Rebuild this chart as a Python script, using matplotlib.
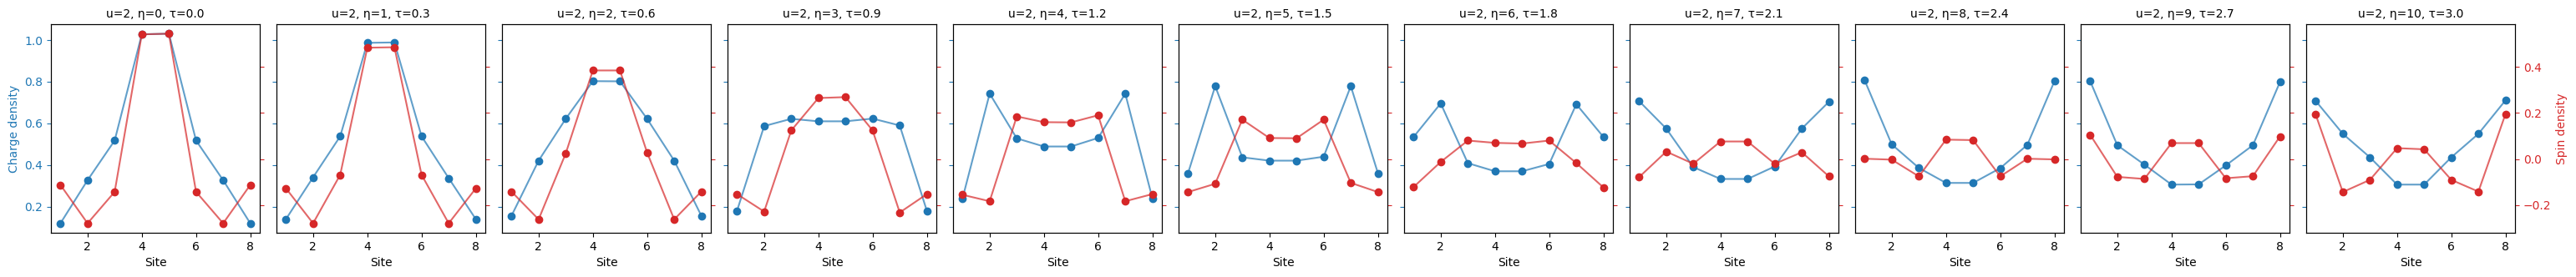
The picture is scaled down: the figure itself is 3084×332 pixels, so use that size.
import matplotlib
matplotlib.use("Agg")
import matplotlib.pyplot as plt
import numpy as np

sites = np.arange(1, 9)
etas = [0, 1, 2, 3, 4, 5, 6, 7, 8, 9, 10]
taus = [0.0, 0.3, 0.6, 0.9, 1.2, 1.5, 1.8, 2.1, 2.4, 2.7, 3.0]

# charge density per eta (sites 1..8)
charge = [
    [0.120, 0.327, 0.518, 1.028, 1.031, 0.518, 0.327, 0.120],
    [0.140, 0.341, 0.538, 0.987, 0.989, 0.538, 0.337, 0.140],
    [0.156, 0.421, 0.622, 0.803, 0.802, 0.622, 0.421, 0.156],
    [0.180, 0.587, 0.622, 0.610, 0.610, 0.623, 0.590, 0.180],
    [0.240, 0.743, 0.528, 0.489, 0.489, 0.530, 0.743, 0.240],
    [0.361, 0.779, 0.437, 0.421, 0.421, 0.440, 0.779, 0.361],
    [0.535, 0.696, 0.409, 0.370, 0.370, 0.405, 0.692, 0.535],
    [0.707, 0.575, 0.390, 0.333, 0.333, 0.393, 0.575, 0.704],
    [0.807, 0.499, 0.386, 0.314, 0.314, 0.385, 0.497, 0.803],
    [0.803, 0.495, 0.402, 0.306, 0.307, 0.398, 0.495, 0.799],
    [0.708, 0.550, 0.437, 0.306, 0.306, 0.437, 0.550, 0.711],
]

# spin density per eta (sites 1..8)
spin = [
    [-0.113, -0.280, -0.143, 0.542, 0.545, -0.143, -0.280, -0.113],
    [-0.128, -0.280, -0.069, 0.484, 0.486, -0.069, -0.280, -0.128],
    [-0.142, -0.263, 0.024, 0.385, 0.385, 0.028, -0.263, -0.142],
    [-0.153, -0.229, 0.124, 0.265, 0.269, 0.124, -0.233, -0.153],
    [-0.156, -0.184, 0.185, 0.160, 0.159, 0.190, -0.184, -0.153],
    [-0.144, -0.108, 0.171, 0.091, 0.090, 0.171, -0.104, -0.144],
    [-0.122, -0.013, 0.080, 0.070, 0.067, 0.080, -0.018, -0.124],
    [-0.079, 0.032, -0.021, 0.076, 0.076, -0.021, 0.029, -0.076],
    [0.001, -0.003, -0.076, 0.084, 0.082, -0.076, 0.001, -0.002],
    [0.105, -0.078, -0.087, 0.069, 0.069, -0.084, -0.075, 0.098],
    [0.193, -0.144, -0.091, 0.047, 0.042, -0.091, -0.142, 0.196],
]

fig, axes = plt.subplots(1, 11, sharey=True, figsize=(30.84, 3.32), dpi=100)
fig.subplots_adjust(left=61 / 3084, right=3011 / 3084, bottom=53 / 332,
                    top=303 / 332, wspace=0.08)

twins = []
for i, ax in enumerate(axes):
    tw = ax.twinx()
    if twins:
        tw.sharey(twins[0])
    twins.append(tw)

    ax.plot(sites, charge[i], "-", color="tab:blue", alpha=0.7)
    ax.plot(sites, charge[i], "o", color="tab:blue")
    tw.plot(sites, spin[i], "-", color="tab:red", alpha=0.7)
    tw.plot(sites, spin[i], "o", color="tab:red")

    ax.set_title(f"u=2, η={etas[i]}, τ={taus[i]:.1f}", fontsize=10)
    ax.set_xlabel("Site")
    ax.set_xticks([2, 4, 6, 8])
    ax.tick_params(axis="y", colors="tab:blue")
    tw.tick_params(axis="y", colors="tab:red")
    if i < len(axes) - 1:
        tw.tick_params(labelright=False)

axes[0].set_ylabel("Charge density", color="tab:blue")
twins[-1].set_ylabel("Spin density", color="tab:red")

plt.savefig("out.png")
